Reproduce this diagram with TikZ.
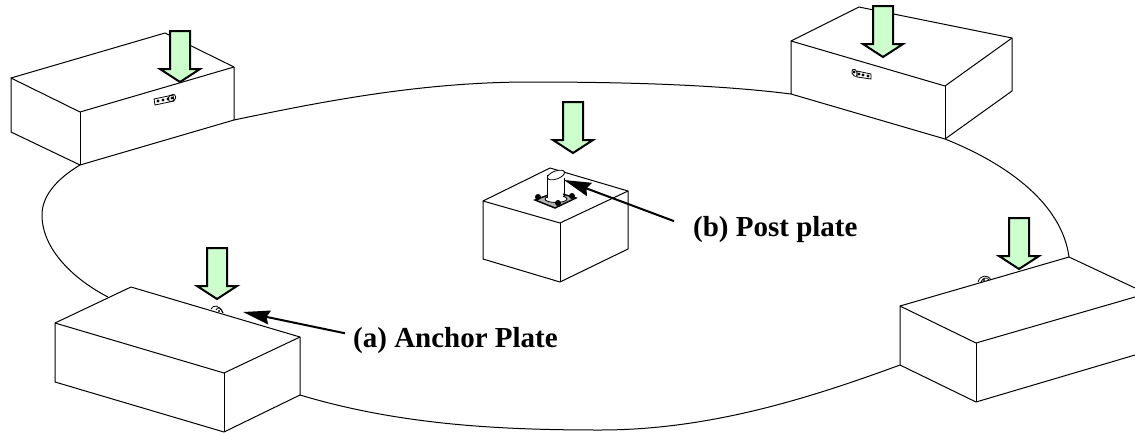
\documentclass[tikz,border=0pt]{standalone}
\usepackage{fontspec}
\setmainfont{Liberation Serif}
\usetikzlibrary{arrows.meta}
\definecolor{loadgreen}{RGB}{204,255,204}
\tikzset{
    edge/.style={line width=1pt, line join=round},
    rim/.style={line width=1pt},
    loadarrow/.style={line width=2pt, fill=loadgreen, line join=miter},
    leader/.style={line width=2pt, -{Stealth[length=27pt,width=14pt,inset=3pt]}},
    caption/.style={anchor=west, inner ysep=0pt, font=\bfseries\fontsize{29}{32}\selectfont},
    part/.style={line width=0.8pt}
}
\begin{document}
\begin{tikzpicture}[x=1pt, y=-1pt]
    \useasboundingbox (0,0) rectangle (1135,432);

    % ground outline between the blocks
    \draw[rim] (234,120) .. controls (320,102) and (420,82) .. (530,82)
        .. controls (630,82) and (720,85) .. (791,94);
    \draw[rim] (945,139) .. controls (1010,165) and (1062,205) .. (1069,257);
    \draw[rim] (300,395) .. controls (400,425) and (500,430) .. (600,430)
        .. controls (710,430) and (810,398) .. (900,365);
    \draw[rim] (80,165) .. controls (55,180) and (42,197) .. (42,215)
        .. controls (42,250) and (75,280) .. (108,297);

    % blocks
    \draw[edge] (11,78) -- (165,33) -- (234,67) -- (234,120) -- (80,165) -- (11,132) -- cycle;
    \draw[edge] (11,78) -- (80,112) -- (234,67);
    \draw[edge] (80,112) -- (80,165);

    \draw[edge] (791,41) -- (859,7) -- (1012,38) -- (1012,91) -- (945,139) -- (791,94) -- cycle;
    \draw[edge] (791,41) -- (945,86) -- (1012,38);
    \draw[edge] (945,86) -- (945,139);

    \draw[edge] (55,323) -- (131,287) -- (300,337) -- (300,395) -- (224,432) -- (55,382) -- cycle;
    \draw[edge] (55,323) -- (224,373) -- (300,337);
    \draw[edge] (224,373) -- (224,432);

    \draw[edge] (1135,288) -- (1069,257) -- (900,306) -- (900,365) -- (976,402) -- (1135,355);
    \draw[edge] (900,306) -- (976,343) -- (1135,297);
    \draw[edge] (976,343) -- (976,402);

    \draw[edge] (550,168) -- (483,201) -- (483,259) -- (560,282) -- (628,249) -- (628,191) -- cycle;
    \draw[edge] (483,201) -- (560,223) -- (628,191);
    \draw[edge] (560,223) -- (560,282);

    % anchor plates
    \draw[part] (154,99) -- (173,95) -- (174,101) -- (155,105) -- cycle;
    \draw[part, rounded corners=2pt] (168,96) -- (175,94) -- (176,100) -- (169,102) -- cycle;
    \foreach \x/\y in {158/101, 163/100, 168/99, 172/98}
        \fill (\x,\y) circle (1.6pt);

    \draw[part, rounded corners=2pt] (852,69) -- (857,70) -- (857,77) -- (852,75) -- cycle;
    \draw[part] (857,71) -- (871,74) -- (871,79) -- (857,77) -- cycle;
    \foreach \x/\y in {854/72, 859/74, 863/75, 868/76}
        \fill (\x,\y) circle (1.6pt);

    \draw[part] (211,309) .. controls (213,305) and (219,304) .. (223,313);
    \draw[part] (216,310) .. controls (217,307) and (221,307) .. (223,313);
    \fill (219,311) circle (1.2pt);

    \draw[part] (978,282) .. controls (980,275) and (988,274) .. (991,280);
    \draw[part] (981,282) .. controls (983,277) and (987,277) .. (989,280);
    \fill (984,280) circle (1.2pt);

    % post plate
    \draw[line width=1.4pt, fill=gray!60] (535,200) -- (556,192) -- (576,198) -- (555,208) -- cycle;
    \draw[part, fill=white] (556,199) ellipse (11pt and 3.5pt);
    \fill[white] (548,176) rectangle (563,197);
    \draw[part] (547,175) -- (547,198);
    \draw[part] (564,178) -- (564,197);
    \draw[part, fill=white, rotate around={20:(556,175)}] (556,175) ellipse (9pt and 4pt);
    \foreach \x/\y in {538/197, 572/196, 558/203}
        \fill (\x,\y) circle (3pt);

    % loads
    \foreach \x/\y in {180/82, 883/57, 573/153, 217/299, 1019/269}
        \draw[loadarrow] (\x-10,\y-51) -- (\x+10,\y-51) -- (\x+10,\y-13) -- (\x+20,\y-13)
            -- (\x,\y) -- (\x-20,\y-13) -- (\x-10,\y-13) -- cycle;

    % labels
    \coordinate (anchortip) at (243,312);
    \coordinate (posttip) at (564,180);
    \node[caption, inner xsep=8pt] (anchorlabel) at (345,341) {(a) Anchor Plate};
    \node[caption, inner xsep=19pt] (postlabel) at (674,230) {(b) Post plate};
    \draw[leader] (anchorlabel.176) -- (anchortip);
    \draw[leader] (postlabel.175) -- (posttip);
\end{tikzpicture}
\end{document}
